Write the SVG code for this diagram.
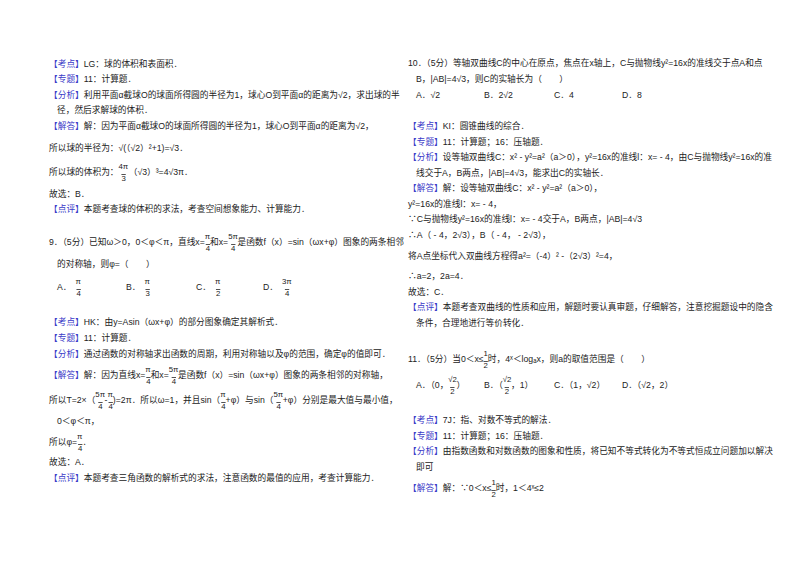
<svg xmlns="http://www.w3.org/2000/svg" width="800" height="565" viewBox="0 0 800 565">
<style>
text{font-family:"Liberation Sans","Noto Sans CJK SC",sans-serif;font-size:8.7px;fill:#222}
.t{fill:#3a3ac8}
.s{font-size:7.8px}
.d{font-size:7.8px;text-decoration:overline}
</style>
<rect width="800" height="565" fill="#fff"/>
<g id="left">
<text x="49" y="67"><tspan class="t">【考点】</tspan>LG：球的体积和表面积．</text>
<text x="49" y="82"><tspan class="t">【专题】</tspan>11：计算题．</text>
<text x="49" y="98"><tspan class="t">【分析】</tspan>利用平面α截球O的球面所得圆的半径为1，球心O到平面α的距离为√2，求出球的半</text>
<text x="57" y="113">径，然后求解球的体积．</text>
<text x="49" y="129"><tspan class="t">【解答】</tspan>解：因为平面α截球O的球面所得圆的半径为1，球心O到平面α的距离为√2，</text>
<text x="49" y="151">所以球的半径为：√(（√2）²+1)=√3．</text>
<text x="49" y="175">所以球的体积为：<tspan class="s" dy="-6">4π</tspan><tspan class="d" dx="-6.8" dy="12">3</tspan><tspan dx="3" dy="-6">（√3）³=4√3π．</tspan></text>
<text x="49" y="197">故选：B．</text>
<text x="49" y="212"><tspan class="t">【点评】</tspan>本题考查球的体积的求法，考查空间想象能力、计算能力．</text>

<text x="49" y="245">9．（5分）已知ω＞0，0＜φ＜π，直线x=<tspan class="s" dy="-6">π</tspan><tspan class="d" dx="-4.4" dy="12">4</tspan><tspan dy="-6">和x=</tspan><tspan class="s" dy="-6">5π</tspan><tspan class="d" dx="-6.8" dy="12">4</tspan><tspan dx="2" dy="-6">是函数f（x）=sin（ωx+φ）图象的两条相邻</tspan></text>
<text x="57" y="267">的对称轴，则φ=（　　）</text>
<text x="57" y="290">A．<tspan class="s" dx="4" dy="-6">π</tspan><tspan class="d" dx="-4.4" dy="12">4</tspan></text>
<text x="126" y="290">B．<tspan class="s" dx="4" dy="-6">π</tspan><tspan class="d" dx="-4.4" dy="12">3</tspan></text>
<text x="196" y="290">C．<tspan class="s" dx="4" dy="-6">π</tspan><tspan class="d" dx="-4.4" dy="12">2</tspan></text>
<text x="263" y="290">D．<tspan class="s" dx="4" dy="-6">3π</tspan><tspan class="d" dx="-6.8" dy="12">4</tspan></text>
<text x="49" y="325"><tspan class="t">【考点】</tspan>HK：由y=Asin（ωx+φ）的部分图象确定其解析式．</text>
<text x="49" y="341"><tspan class="t">【专题】</tspan>11：计算题．</text>
<text x="49" y="357"><tspan class="t">【分析】</tspan>通过函数的对称轴求出函数的周期，利用对称轴以及φ的范围，确定φ的值即可．</text>
<text x="49" y="378"><tspan class="t">【解答】</tspan>解：因为直线x=<tspan class="s" dy="-6">π</tspan><tspan class="d" dx="-4.4" dy="12">4</tspan><tspan dy="-6">和x=</tspan><tspan class="s" dy="-6">5π</tspan><tspan class="d" dx="-6.8" dy="12">4</tspan><tspan dx="2" dy="-6">是函数f（x）=sin（ωx+φ）图象的两条相邻的对称轴，</tspan></text>
<text x="49" y="403">所以T=2×（<tspan class="s" dy="-6">5π</tspan><tspan class="d" dx="-6.8" dy="12">4</tspan><tspan dx="2" dy="-6">-</tspan><tspan class="s" dy="-6">π</tspan><tspan class="d" dx="-4.4" dy="12">4</tspan><tspan dy="-6">)=2π．所以ω=1，并且sin（</tspan><tspan class="s" dy="-6">π</tspan><tspan class="d" dx="-4.4" dy="12">4</tspan><tspan dy="-6">+φ）与sin（</tspan><tspan class="s" dy="-6">5π</tspan><tspan class="d" dx="-6.8" dy="12">4</tspan><tspan dx="2" dy="-6">+φ）分别是最大值与最小值，</tspan></text>
<text x="57" y="424">0＜φ＜π，</text>
<text x="49" y="445">所以φ=<tspan class="s" dy="-6">π</tspan><tspan class="d" dx="-4.4" dy="12">4</tspan><tspan dy="-6">．</tspan></text>
<text x="49" y="465">故选：A．</text>
<text x="49" y="481"><tspan class="t">【点评】</tspan>本题考查三角函数的解析式的求法，注意函数的最值的应用，考查计算能力．</text>
</g>
<g id="right">
<text x="408" y="66">10．（5分）等轴双曲线C的中心在原点，焦点在x轴上，C与抛物线y²=16x的准线交于点A和点</text>
<text x="416" y="82">B，|AB|=4√3，则C的实轴长为（　　）</text>
<text x="416" y="98">A．√2</text><text x="484" y="98">B．2√2</text><text x="554" y="98">C．4</text><text x="622" y="98">D．8</text>
<text x="408" y="129"><tspan class="t">【考点】</tspan>KI：圆锥曲线的综合．</text>
<text x="408" y="145"><tspan class="t">【专题】</tspan>11：计算题；16：压轴题．</text>
<text x="408" y="160"><tspan class="t">【分析】</tspan>设等轴双曲线C：x² - y²=a²（a＞0），y²=16x的准线l：x= - 4，由C与抛物线y²=16x的准</text>
<text x="416" y="176">线交于A，B两点，|AB|=4√3，能求出C的实轴长．</text>
<text x="408" y="191"><tspan class="t">【解答】</tspan>解：设等轴双曲线C：x² - y²=a²（a＞0），</text>
<text x="408" y="207">y²=16x的准线l：x= - 4，</text>
<text x="408" y="222">∵C与抛物线y²=16x的准线l：x= - 4交于A，B两点，|AB|=4√3</text>
<text x="408" y="238">∴A（ - 4，2√3），B（ - 4， - 2√3），</text>
<text x="408" y="259">将A点坐标代入双曲线方程得a²=（-4）² -（2√3）²=4，</text>
<text x="408" y="279">∴a=2，2a=4．</text>
<text x="408" y="295">故选：C．</text>
<text x="408" y="310"><tspan class="t">【点评】</tspan>本题考查双曲线的性质和应用，解题时要认真审题，仔细解答，注意挖掘题设中的隐含</text>
<text x="416" y="326">条件，合理地进行等价转化．</text>
<text x="408" y="362">11．（5分）当0＜x≤<tspan class="s" dy="-6">1</tspan><tspan class="d" dx="-4.4" dy="12">2</tspan><tspan dy="-6">时，4ˣ＜logₐx，则a的取值范围是（　　）</tspan></text>
<text x="416" y="388">A．（0，<tspan class="s" dy="-6">√2</tspan><tspan class="d" dx="-6.8" dy="12">2</tspan><tspan dx="2" dy="-6">）</tspan></text>
<text x="484" y="388">B．（<tspan class="s" dy="-6">√2</tspan><tspan class="d" dx="-6.8" dy="12">2</tspan><tspan dx="2" dy="-6">，1）</tspan></text>
<text x="554" y="388">C．（1，√2）</text>
<text x="622" y="388">D．（√2，2）</text>
<text x="408" y="423"><tspan class="t">【考点】</tspan>7J：指、对数不等式的解法．</text>
<text x="408" y="439"><tspan class="t">【专题】</tspan>11：计算题；16：压轴题．</text>
<text x="408" y="454"><tspan class="t">【分析】</tspan>由指数函数和对数函数的图象和性质，将已知不等式转化为不等式恒成立问题加以解决</text>
<text x="416" y="470">即可</text>
<text x="408" y="491"><tspan class="t">【解答】</tspan>解：∵0＜x≤<tspan class="s" dy="-6">1</tspan><tspan class="d" dx="-4.4" dy="12">2</tspan><tspan dy="-6">时，1＜4ˣ≤2</tspan></text>
</g>
</svg>
